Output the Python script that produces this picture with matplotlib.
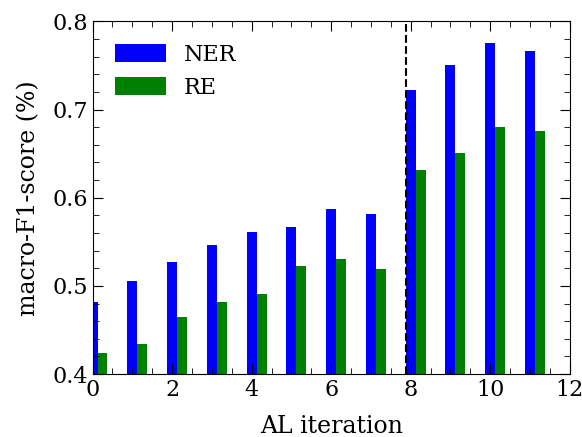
import matplotlib
matplotlib.use("Agg")
import matplotlib.pyplot as plt
from matplotlib.ticker import MultipleLocator
import numpy as np

# AL iterations and macro-F1 per task
iterations = np.arange(12)
ner_f1 = [0.482, 0.506, 0.527, 0.546, 0.561, 0.567, 0.587, 0.582, 0.722, 0.750, 0.776, 0.766]
re_f1 = [0.424, 0.434, 0.465, 0.482, 0.491, 0.523, 0.530, 0.519, 0.632, 0.651, 0.680, 0.676]
split_at = 7.875

plt.rcParams['font.family'] = 'DejaVu Serif'
plt.rcParams['font.size'] = 16

fig = plt.figure(figsize=(5.82, 4.37), dpi=100)
ax = fig.add_axes([0.159, 0.144, 0.82, 0.807])

width = 0.25
ax.bar(iterations, ner_f1, width, color='blue', label='NER')
ax.bar(iterations + width, re_f1, width, color='green', label='RE')
ax.axvline(split_at, color='black', linestyle='--', linewidth=1.5)

ax.set_xlim(0, 12)
ax.set_ylim(0.4, 0.8)
ax.set_xlabel('AL iteration', fontsize=17, labelpad=10)
ax.set_ylabel('macro-F1-score (%)', fontsize=17, labelpad=8.5)
ax.xaxis.set_major_locator(MultipleLocator(2))
ax.xaxis.set_minor_locator(MultipleLocator(0.5))
ax.yaxis.set_major_locator(MultipleLocator(0.1))
ax.yaxis.set_minor_locator(MultipleLocator(0.02))
ax.tick_params(which='both', direction='in', top=True, right=True)
ax.tick_params(which='major', length=7)
ax.tick_params(which='minor', length=4)

ax.legend(loc='upper left', frameon=False, handlelength=2.3, handleheight=0.9,
          borderaxespad=0.6)

fig.savefig('out.png', dpi=100)
